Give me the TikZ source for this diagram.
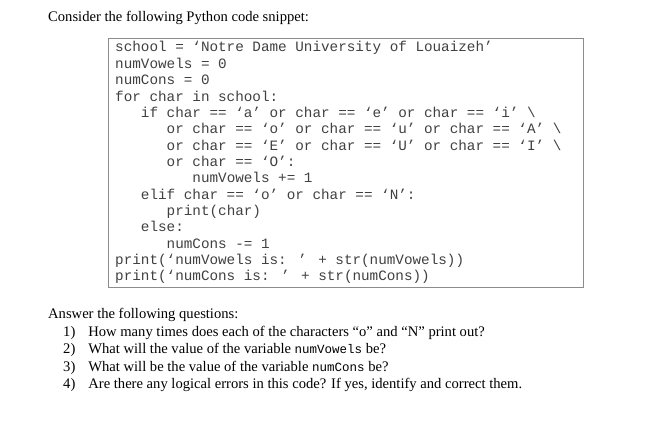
\documentclass[tikz,border=0pt]{standalone}
\usepackage{fontspec}
\setmainfont{Liberation Serif}
\newfontfamily\codefont{Liberation Mono}
\begin{document}
\begin{tikzpicture}[x=1pt,y=1pt,
  txt/.style={anchor=base west,inner sep=0pt,font=\fontsize{14.6}{16}\selectfont},
  code/.style={anchor=base west,inner sep=0pt,text=black!75,font=\codefont\fontsize{14.3}{16}\selectfont},
  codebox/.style={draw=black!45,line width=1pt}]
\useasboundingbox (0,0) rectangle (655,-427);
\node[txt] (head) at (48,-22) {Consider the following Python code snippet:};
\draw[codebox] (108,-39) rectangle (583,-288);
\foreach \i/\t in {0/{school = ‘Notre Dame University of Louaizeh’},
  1/{numVowels = 0},
  2/{numCons = 0},
  3/{for char in school:},
  4/{\ \ \ if char == ‘a’ or char == ‘e’ or char == ‘i’ \textbackslash},
  5/{\ \ \ \ \ \ or char == ‘o’ or char == ‘u’ or char == ‘A’ \textbackslash},
  6/{\ \ \ \ \ \ or char == ‘E’ or char == ‘U’ or char == ‘I’ \textbackslash},
  7/{\ \ \ \ \ \ or char == ‘O’:},
  8/{\ \ \ \ \ \ \ \ \ numVowels += 1},
  9/{\ \ \ elif char == ‘o’ or char == ‘N’:},
  10/{\ \ \ \ \ \ print(char)},
  11/{\ \ \ else:},
  12/{\ \ \ \ \ \ numCons -= 1},
  13/{print(‘numVowels is: ’ + str(numVowels))},
  14/{print(‘numCons is: ’ + str(numCons))}}
  \node[code] (c\i) at (115,-52-16.35*\i) {\t};
\node[txt] (ans) at (48,-318) {Answer the following questions:};
\node[txt] (q1) at (63,-336) {1)\hspace{13pt}How many times does each of the characters ``o'' and ``N'' print out?};
\node[txt] (q2) at (63,-353.5) {2)\hspace{13pt}What will the value of the variable {\codefont\fontsize{12.5}{14}\selectfont numVowels} be?};
\node[txt] (q3) at (63,-371) {3)\hspace{13pt}What will be the value of the variable {\codefont\fontsize{12.5}{14}\selectfont numCons} be?};
\node[txt] (q4) at (63,-388.5) {4)\hspace{13pt}Are there any logical errors in this code? If yes, identify and correct them.};
\end{tikzpicture}
\end{document}
